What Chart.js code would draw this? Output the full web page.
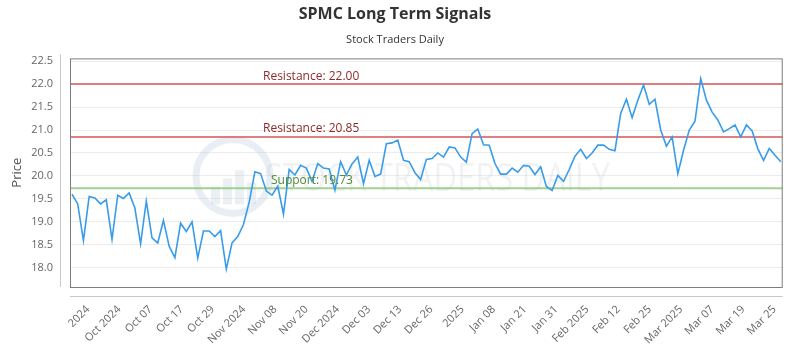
<!DOCTYPE html>
<html>
<head>
<meta charset="utf-8">
<script src="https://cdn.jsdelivr.net/npm/chart.js@4.4.1/dist/chart.umd.min.js"></script>
<style>
  html, body { margin: 0; padding: 0; background: #fff; }
  #wrap { width: 800px; height: 350px; }
</style>
</head>
<body>
<div id="wrap"><canvas id="myChart" width="800" height="350"></canvas></div>
<script>
/* chart values */
let prices = [
  19.60, 19.39, 18.59, 19.55, 19.52, 19.39, 19.48, 18.62, 19.58, 19.51,
  19.63, 19.30, 18.52, 19.45, 18.65, 18.54, 19.03, 18.47, 18.22, 18.97,
  18.79, 19.00, 18.21, 18.80, 18.80, 18.68, 18.81, 17.97, 18.54, 18.68,
  18.94, 19.43, 20.09, 20.05, 19.67, 19.58, 19.78, 19.17, 20.14, 20.02,
  20.23, 20.17, 19.88, 20.27, 20.17, 20.15, 19.69, 20.31, 20.02, 20.26,
  20.41, 19.83, 20.34, 19.99, 20.04, 20.70, 20.72, 20.78, 20.34, 20.31,
  20.07, 19.92, 20.36, 20.38, 20.50, 20.41, 20.63, 20.61, 20.41, 20.30,
  20.92, 21.02, 20.68, 20.67, 20.27, 20.04, 20.04, 20.17, 20.08, 20.23,
  20.21, 20.03, 20.20, 19.77, 19.68, 20.01, 19.88, 20.14, 20.43, 20.58,
  20.38, 20.50, 20.67, 20.67, 20.58, 20.55, 21.36, 21.67, 21.27, 21.65,
  21.98, 21.56, 21.67, 21.00, 20.65, 20.85, 20.05, 20.56, 21.00, 21.19,
  22.12, 21.65, 21.39, 21.22, 20.96, 21.03, 21.11, 20.85, 21.11, 20.98,
  20.59, 20.34, 20.60, 20.45, 20.31
];
let tickLabels = [
  "2024", "Oct 2024", "Oct 07", "Oct 17", "Oct 29", "Nov 2024", "Nov 08",
  "Nov 20", "Dec 2024", "Dec 03", "Dec 13", "Dec 26", "2025", "Jan 08",
  "Jan 21", "Jan 31", "Feb 2025", "Feb 12", "Feb 25", "Mar 2025", "Mar 07",
  "Mar 19", "Mar 25"
];
let resistanceLevels = [22.00, 20.85];
let supportLevels = [19.73];

let fontFamily = "'Open Sans', 'DejaVu Sans', sans-serif";
let lastIndex = prices.length - 1;
let xMin = -0.35, xMax = lastIndex + 0.35;
let tickStart = 2.8, tickStep = 5.46;

function flatLine(v) {
  return [{ x: xMin, y: v }, { x: xMax, y: v }];
}

let datasets = [{
  label: 'Price',
  data: prices.map((p, i) => ({ x: i, y: p })),
  borderColor: '#3a9ce8',
  borderWidth: 1.6,
  pointRadius: 0,
  fill: false,
  tension: 0,
  order: 0
}];
resistanceLevels.forEach(v => {
  datasets.push({
    label: 'Resistance: ' + v.toFixed(2),
    data: flatLine(v),
    borderColor: 'rgba(215, 95, 95, 0.8)',
    borderWidth: 2,
    pointRadius: 0,
    order: 1
  });
});
supportLevels.forEach(v => {
  datasets.push({
    label: 'Support: ' + v.toFixed(2),
    data: flatLine(v),
    borderColor: 'rgba(130, 195, 110, 0.75)',
    borderWidth: 2,
    pointRadius: 0,
    order: 1
  });
});

/* frame, offset axis lines, watermark and level labels */
let decorations = {
  id: 'decorations',
  beforeDatasetsDraw(chart) {
    let ctx = chart.ctx, a = chart.chartArea;
    let cx = a.left + 163, cy = a.top + 118;
    ctx.save();
    // watermark
    ctx.strokeStyle = 'rgba(190, 205, 220, 0.35)';
    ctx.lineWidth = 7;
    ctx.beginPath();
    ctx.arc(cx, cy, 37, 0, Math.PI * 2);
    ctx.stroke();
    ctx.fillStyle = 'rgba(190, 205, 220, 0.3)';
    [[-22, 18], [-10, 26], [2, 34], [14, 22]].forEach(b => {
      ctx.fillRect(cx + b[0], cy + 28 - b[1], 9, b[1]);
    });
    ctx.font = "39px " + fontFamily;
    ctx.fillStyle = 'rgba(185, 195, 205, 0.22)';
    ctx.textBaseline = 'middle';
    let txt = 'STOCK TRADERS DAILY';
    let w = ctx.measureText(txt).width;
    ctx.translate(a.left + 195, a.top + 121);
    ctx.scale(345 / w, 1);
    ctx.fillText(txt, 0, 0);
    ctx.restore();
  },
  afterDraw(chart) {
    let ctx = chart.ctx, a = chart.chartArea;
    let y = chart.scales.y;
    ctx.save();
    ctx.strokeStyle = '#7d7d7d';
    ctx.lineWidth = 1;
    ctx.strokeRect(a.left + 0.5, a.top + 0.5, a.right - a.left - 1, a.bottom - a.top);
    ctx.strokeStyle = '#c8c8c8';
    ctx.beginPath();
    ctx.moveTo(a.left - 9.5, a.top - 4);
    ctx.lineTo(a.left - 9.5, a.bottom);
    ctx.moveTo(a.left, a.bottom + 9.5);
    ctx.lineTo(a.right, a.bottom + 9.5);
    ctx.stroke();

    ctx.font = "12px " + fontFamily;
    ctx.textBaseline = 'bottom';
    ctx.fillStyle = '#8e2a2a';
    resistanceLevels.forEach(v => {
      ctx.fillText('Resistance: ' + v.toFixed(2), a.left + 193, y.getPixelForValue(v) - 2);
    });
    ctx.fillStyle = '#4e8a36';
    supportLevels.forEach(v => {
      ctx.fillText('Support: ' + v.toFixed(2), a.left + 201, y.getPixelForValue(v) - 2);
    });
    ctx.restore();
  }
};

let ctx = document.getElementById('myChart').getContext('2d');
let my_chart = new Chart(ctx, {
  type: 'line',
  data: { datasets: datasets },
  plugins: [decorations],
  options: {
    responsive: false,
    animation: false,
    layout: { padding: { left: 0, right: 10, top: 0, bottom: 0 } },
    plugins: {
      legend: { display: false },
      tooltip: { enabled: false },
      title: {
        display: true,
        text: 'SPMC Long Term Signals',
        color: '#333',
        font: { family: fontFamily, size: 16, weight: 'bold' },
        padding: { top: 5, bottom: 5 }
      },
      subtitle: {
        display: true,
        text: 'Stock Traders Daily',
        color: '#333',
        font: { family: fontFamily, size: 11 },
        padding: { top: 4, bottom: 12 }
      }
    },
    scales: {
      x: {
        type: 'linear',
        min: xMin,
        max: xMax,
        bounds: 'data',
        grid: { display: false, drawTicks: false },
        border: { display: false },
        afterBuildTicks(scale) {
          scale.ticks = tickLabels.map((l, k) => ({ value: tickStart + k * tickStep }));
        },
        afterFit(scale) { scale.height = 63; },
        ticks: {
          autoSkip: false,
          minRotation: 45,
          maxRotation: 45,
          padding: 16,
          color: '#666',
          font: { family: fontFamily, size: 11 },
          callback: (v, i) => tickLabels[i]
        }
      },
      y: {
        min: 17.58,
        max: 22.56,
        bounds: 'ticks',
        grid: { color: '#ececec', drawTicks: false },
        border: { display: false },
        afterFit(scale) { scale.width = 70; },
        title: {
          display: true,
          text: 'Price',
          color: '#555',
          font: { family: fontFamily, size: 13 },
          padding: { top: 9, bottom: 0 }
        },
        ticks: {
          stepSize: 0.5,
          includeBounds: false,
          padding: 17,
          color: '#666',
          font: { family: fontFamily, size: 11 },
          callback: v => v.toFixed(1)
        }
      }
    }
  }
});
</script>
</body>
</html>
